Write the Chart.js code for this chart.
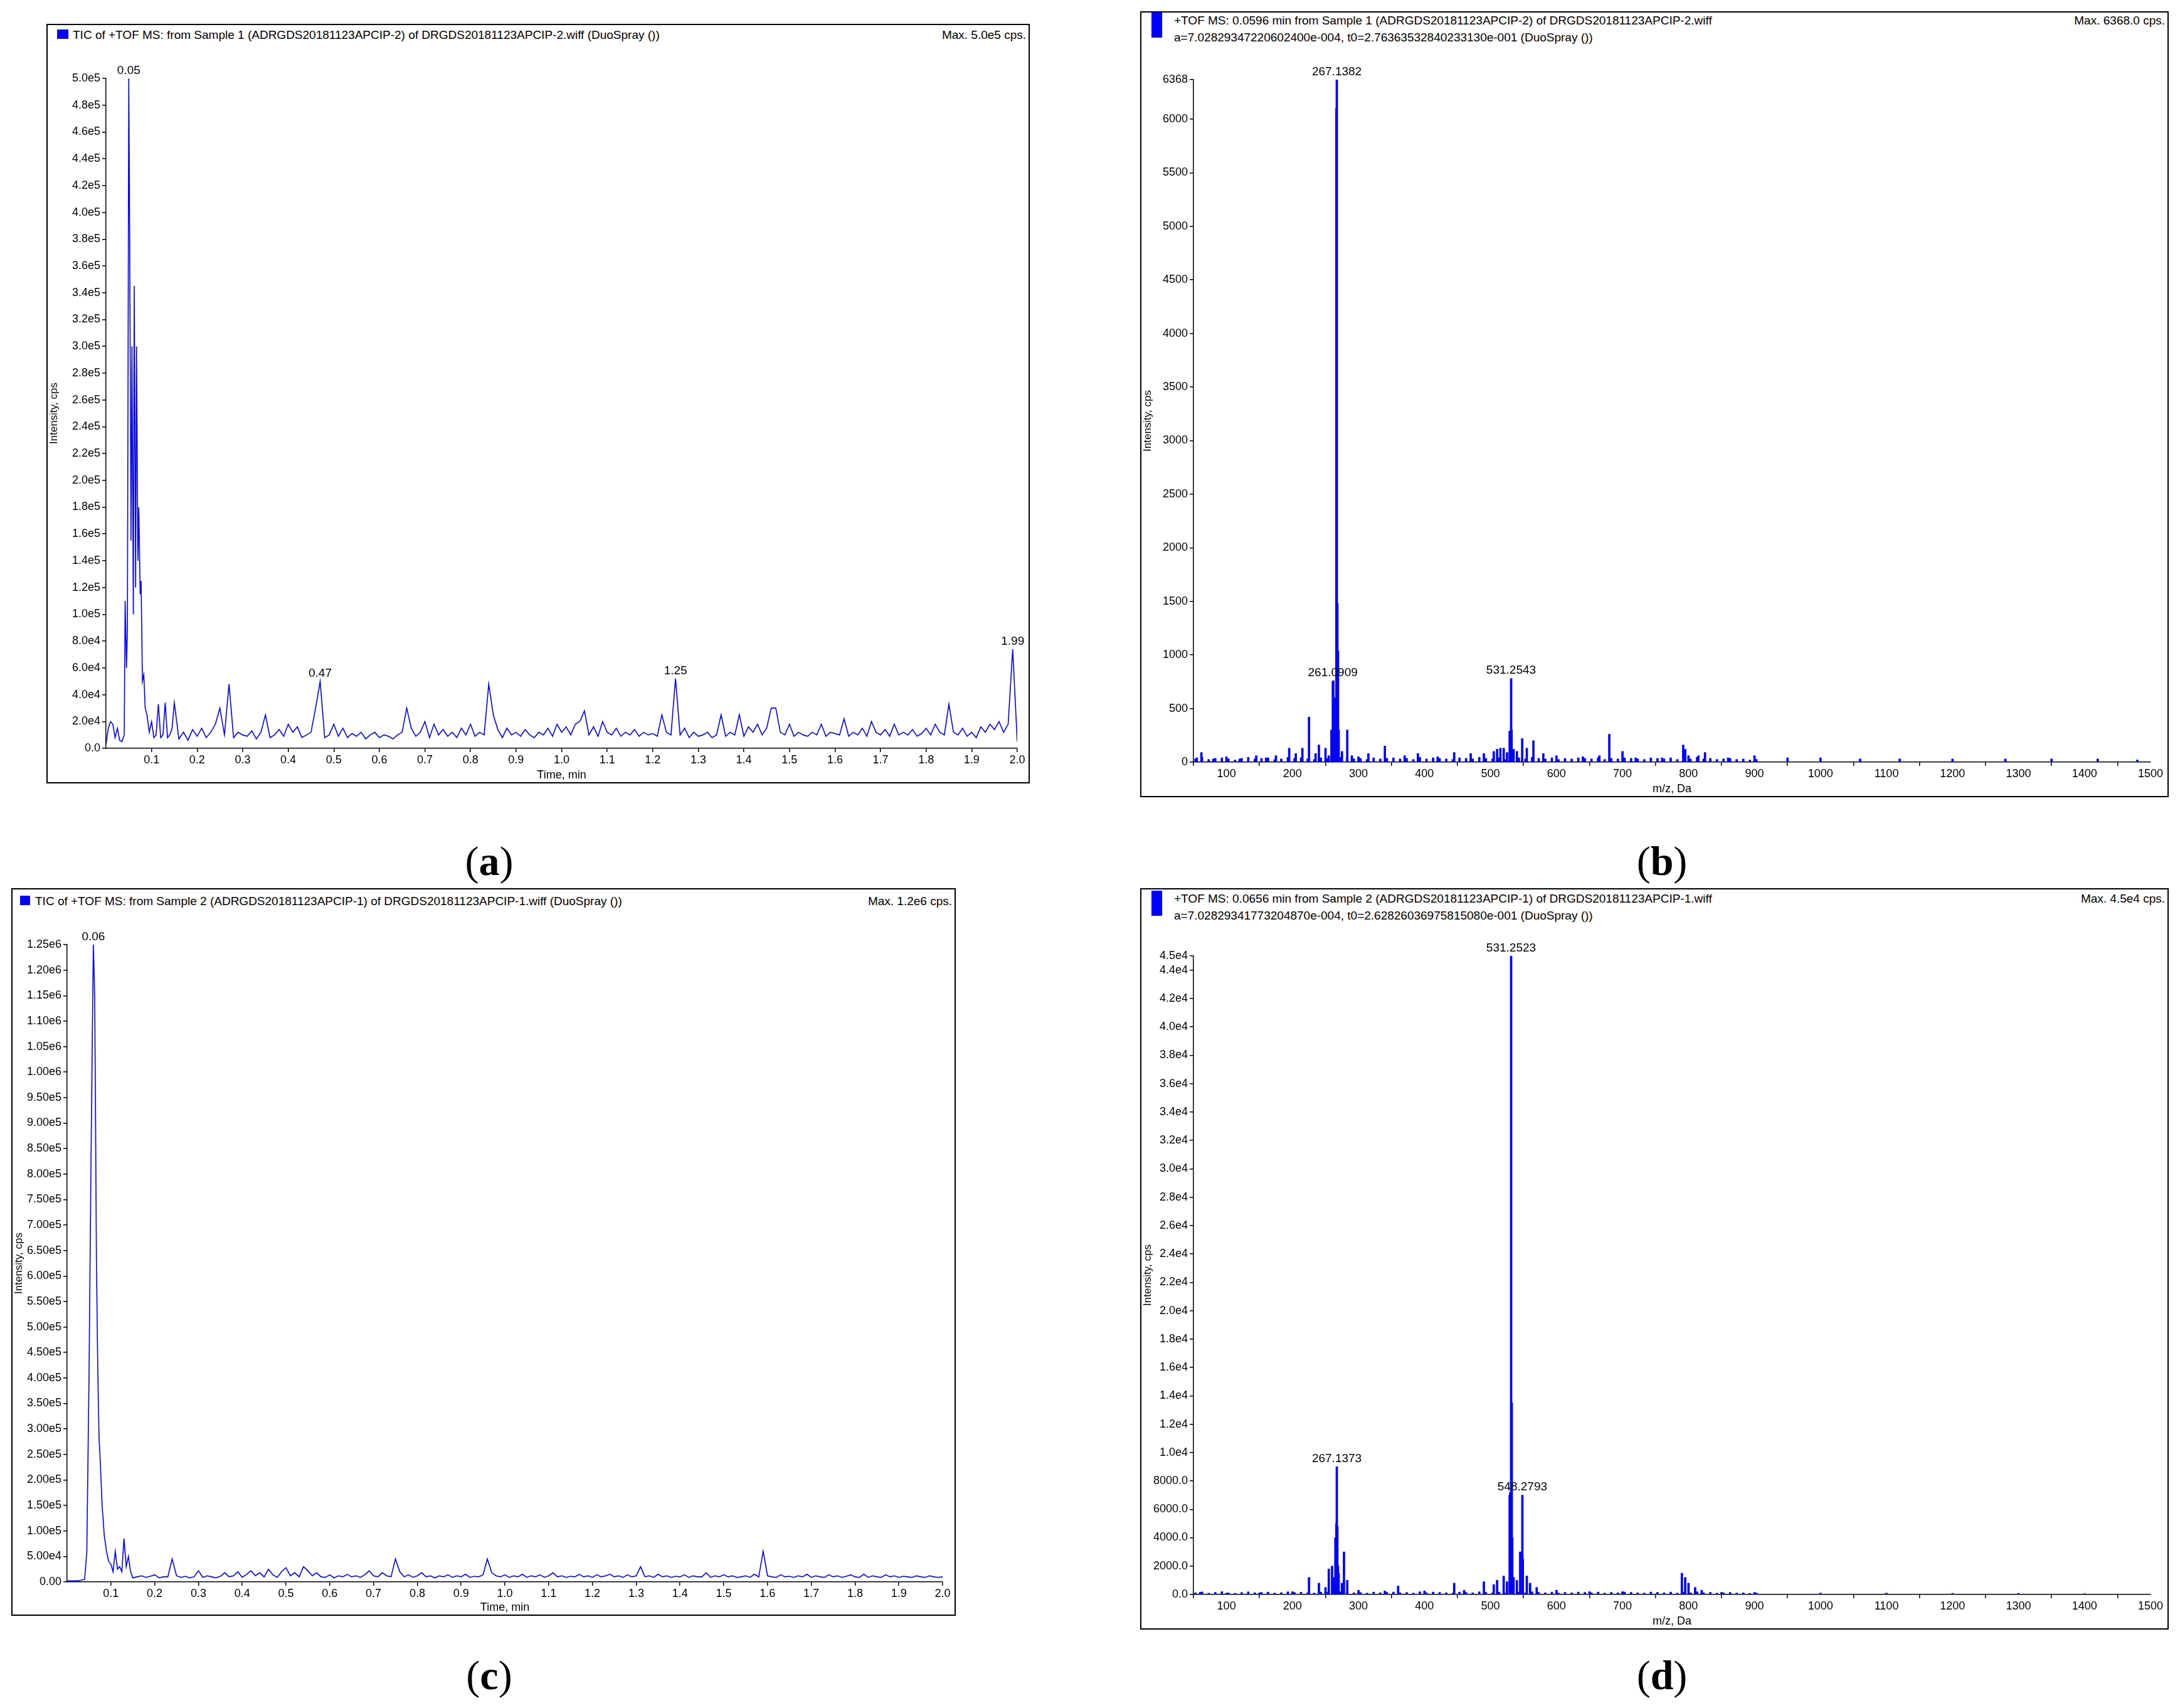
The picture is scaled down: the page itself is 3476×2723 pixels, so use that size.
<!DOCTYPE html>
<html><head><meta charset="utf-8">
<script src="https://cdn.jsdelivr.net/npm/chart.js@4/dist/chart.umd.min.js"></script>
<style>
body{margin:0;background:#fff;width:3476px;height:2723px;position:relative;overflow:hidden;font-family:'Liberation Sans Narrow','Liberation Sans',sans-serif;}
.frame{position:absolute;border:2px solid #000;box-sizing:border-box;}
.frame canvas{position:absolute;left:0;top:0;}
.hd{position:absolute;font-size:19px;white-space:nowrap;color:#000;}
.sq{position:absolute;background:#0000ff;}
.lab{position:absolute;font-family:'Liberation Serif','DejaVu Serif',serif;font-size:66px;transform:translateX(-50%);}
</style></head><body>
<script>
// ---------- DATA ----------
// (a) TIC sample 1 : early region + noise region from 0.15 min in 0.01 steps (intensity in units of 1e3 cps)
const timeA0 = [0,0.005,0.01,0.015,0.02,0.025,0.03,0.035,0.04,0.042,0.045,0.047,0.05,0.052,0.055,0.057,0.06,0.062,0.065,0.067,0.07,0.072,0.075,0.077,0.08,0.083,0.086,0.09,0.095,0.1,0.105,0.11,0.115,0.12,0.125,0.13,0.135,0.14,0.145];
const intA0 = [3,15,20,18,8,15,6,5,10,110,60,90,500,380,155,300,100,345,120,300,140,180,115,125,50,55,30,25,12,20,8,10,33,8,10,34,8,10,15];
const intA1 = [34,7,12,6,14,9,15,8,12,18, 30,10,48,8,12,10,9,13,7,12, 25,8,10,14,9,18,12,16,8,10, 12,30,50,8,10,18,9,15,8,11,
 9,12,7,10,12,8,10,9,7,10, 12,30,15,9,12,20,8,18,10,14, 9,12,8,15,10,18,9,12,10,48, 25,14,8,15,10,12,9,14,10,8,
 12,10,15,9,18,12,16,10,18,20, 28,10,16,9,20,12,10,15,9,12, 10,14,9,12,10,11,9,25,12,10, 52,10,15,8,12,9,10,12,8,10,
 25,9,12,10,25,9,16,12,18,10, 15,30,30,12,10,18,9,12,10,9, 12,10,18,9,12,11,10,22,9,12, 10,15,9,20,12,10,14,9,18,10,
 12,10,14,9,11,15,10,18,12,10, 33,12,10,15,9,12,8,16,12,18, 14,20,12,18,74,5];
const labelsA = [[0.05,500,'0.05'],[0.47,50,'0.47'],[1.25,52,'1.25'],[1.99,74,'1.99']];
// (c) TIC sample 2 (units of 1e3 cps)
const timeC0 = [0,0.01,0.02,0.03,0.04,0.045,0.05,0.055,0.058,0.06,0.063,0.065,0.067,0.07,0.073,0.075,0.078,0.08,0.085,0.09,0.095,0.1,0.105,0.11,0.115,0.12,0.125,0.13,0.135,0.14,0.145];
const intC0 = [2,2,2,3,5,60,400,860,1100,1250,1150,900,630,420,280,250,190,150,90,60,40,35,20,60,25,30,20,85,30,50,20];
const intC1 = [8,10,12,9,11,14,8,10,10,45, 12,9,11,8,10,22,9,12,10,8, 11,18,10,12,20,9,15,22,12,18, 10,25,14,9,20,28,12,18,10,30,
 22,12,18,10,9,14,8,12,10,15, 10,12,9,14,22,12,10,18,12,10, 45,20,10,14,9,12,18,10,12,8, 12,10,14,9,12,10,15,9,11,10,
 14,45,18,12,10,14,9,12,10,15, 9,12,10,14,9,12,18,10,12,9, 11,10,15,10,12,9,14,10,12,15, 10,12,9,14,10,12,30,10,12,9,
 15,10,12,9,11,10,14,9,12,10, 10,18,9,12,10,14,10,12,9,10, 12,9,15,10,60,12,10,9,14,10, 11,9,12,10,15,9,12,10,9,14,
 10,12,9,11,14,10,9,15,9,12, 10,9,14,10,12,9,11,10,9,12, 10,9,12,10,9,10];
const labelsC = [[0.06,1250,'0.06']];
// (b) spectrum sample 1
const peaksB = [[55,40],[62,90],[80,30],[100,50],[120,30],[145,60],[160,40],[175,60],[195,130],[205,80],[215,130],[225,420],[235,80],[240,160],[250,130],[255,60],[259,300],[261.09,750],[262,760],[263,600],[264,300],[266.5,6100],[267.14,6368],[268,1480],[269,1040],[270,300],[275,100],[283,300],[290,60],[300,50],[315,80],[340,150],[370,60],[390,80],[420,50],[445,90],[470,80],[490,80],[505,100],[510,120],[515,130],[520,130],[525,90],[529,290],[531.25,780],[532,300],[535,120],[540,100],[548,220],[555,130],[565,200],[580,80],[600,60],[640,50],[665,60],[680,260],[700,100],[720,40],[760,40],[792,160],[795,120],[800,60],[815,60],[825,90],[860,40],[900,60],[950,40],[1000,40],[1060,30],[1120,30],[1200,30],[1280,30],[1350,30],[1420,30],[1480,20]];
const noiseB = [30,45,25,35,40,30,20,35,45,30, 35,40,25,30,45,35,40,30,25,40, 35,30,45,40,30,35,25,40,30,35, 40,30,35,25,45,30,40,35,30,25,
 40,35,30,45,35,30,40,25,35,40, 30,45,35,30,40,25,35,30,40,35, 30,40,25,35,30,40,35,30,25,40, 35,30,40,25,35,30,45,30,35,25, 30,35,25,30,20,25];
const labelsB = [[267.14,6368,'267.1382'],[261.09,760,'261.0909'],[531.25,780,'531.2543']];
// (d) spectrum sample 2
const peaksD = [[60,150],[100,100],[150,120],[200,200],[225,1200],[240,800],[250,500],[255,1800],[260,2000],[262,1200],[265,4000],[266.5,5000],[267.14,9000],[268,4800],[269,2000],[270,1500],[275,800],[278,3000],[283,1000],[300,300],[340,250],[360,600],[400,250],[445,800],[460,300],[490,900],[505,700],[510,1000],[520,1300],[525,900],[529,7000],[530,7200],[531.25,45000],[532.25,13500],[533,4000],[535,1200],[540,1000],[545,3000],[548.28,7000],[549,2500],[555,1300],[560,800],[570,500],[600,300],[650,200],[700,200],[790,1500],[795,1200],[800,800],[810,500],[820,300],[850,150],[900,150],[1000,100],[1100,100],[1200,80],[1300,80],[1400,60]];
const noiseD = [120,180,90,150,200,110,80,140,190,120, 150,170,100,130,190,140,160,120,100,170, 150,120,190,170,120,140,100,170,120,150, 170,120,140,100,190,120,170,150,120,100,
 170,150,120,190,150,120,170,100,150,170, 120,190,150,120,170,100,150,120,170,150, 120,170,100,150,120,170,150,120,100,170, 150,120,170,100,150,120,190,120,150,100, 120,150,100,120,80,100];
const labelsD = [[531.25,45000,'531.2523'],[267.14,9000,'267.1373'],[548.28,7000,'548.2793']];

const ticksTime = [0.1,0.2,0.3,0.4,0.5,0.6,0.7,0.8,0.9,1.0,1.1,1.2,1.3,1.4,1.5,1.6,1.7,1.8,1.9,2.0];
const ticksMz = [100,200,300,400,500,600,700,800,900,1000,1100,1200,1300,1400,1500];
const ticksYA = [0,20000,40000,60000,80000,100000,120000,140000,160000,180000,200000,220000,240000,260000,280000,300000,320000,340000,360000,380000,400000,420000,440000,460000,480000,500000];
const ticksYB = [0,500,1000,1500,2000,2500,3000,3500,4000,4500,5000,5500,6000,6368];
const ticksYC = [0,50000,100000,150000,200000,250000,300000,350000,400000,450000,500000,550000,600000,650000,700000,750000,800000,850000,900000,950000,1000000,1050000,1100000,1150000,1200000,1250000];
const ticksYD = [0,2000,4000,6000,8000,10000,12000,14000,16000,18000,20000,22000,24000,26000,28000,30000,32000,34000,36000,38000,40000,42000,44000,45000];

// ---------- BUILD ----------
function ticFromArrays(t0,v0,v1){
  const d = t0.map((t,i)=>({x:t,y:v0[i]*1000}));
  v1.forEach((v,i)=>d.push({x:+(0.15+i*0.01).toFixed(3),y:v*1000}));
  return d;
}
function specFromArrays(peaks,noise){
  const d = noise.map((v,i)=>({x:50+i*10+3,y:v}));
  peaks.forEach(p=>d.push({x:p[0],y:p[1]}));
  return d.sort((a,b)=>a.x-b.x);
}
const fmtA = v => v===0?'0.0':(v>=1e5?(v/1e5).toFixed(1)+'e5':(v/1e4).toFixed(1)+'e4');
const fmtC = v => v===0?'0.00':(v>=1e6?(v/1e6).toFixed(2)+'e6':(v>=1e5?(v/1e5).toFixed(2)+'e5':(v/1e4).toFixed(2)+'e4'));
const fmtD = v => v===0?'0.0':(v>=1e4?(v/1e4).toFixed(1)+'e4':v.toFixed(1));
const fmtB = v => String(v);
const fmtT = v => v.toFixed(1);
const fmtM = v => String(v);

const FONT = "'Liberation Sans Narrow','Liberation Sans',sans-serif";
const peakLabelPlugin = {
  id:'pl',
  afterDatasetsDraw(ch){
    const o = ch.options.plugins.pl; const c=ch.ctx;
    c.save(); c.fillStyle='#000'; c.font='19px '+FONT; c.textAlign='center'; c.textBaseline='bottom';
    o.labels.forEach(l=>{ c.fillText(l[2], ch.scales.x.getPixelForValue(l[0]), ch.scales.y.getPixelForValue(l[1]*o.mult)-3); });
    c.restore();
  }
};

function panel(o){
  const f=document.createElement('div'); f.className='frame';
  Object.assign(f.style,{left:o.fx+'px',top:o.fy+'px',width:o.fw+'px',height:o.fh+'px'});
  document.body.appendChild(f);
  const sq=document.createElement('div'); sq.className='sq';
  Object.assign(sq.style,{left:o.sq[0]+'px',top:o.sq[1]+'px',width:o.sq[2]+'px',height:o.sq[3]+'px'}); f.appendChild(sq);
  o.head.forEach(h=>{const e=document.createElement('div');e.className='hd';e.textContent=h[2];
    e.style.left=h[0]+'px';e.style.top=h[1]+'px';f.appendChild(e);});
  const m=document.createElement('div');m.className='hd';m.textContent=o.max;m.style.right='4px';m.style.top=o.head[0][1]+'px';f.appendChild(m);
  const cv=document.createElement('canvas'); cv.width=o.fw-4; cv.height=o.fh-4; cv.style.left='0';cv.style.top='0'; f.appendChild(cv);
  const tickFont={family:FONT,size:18};
  new Chart(cv,{
    type:o.type,
    data:{datasets:[{data:o.data,borderColor:'#0000ff',backgroundColor:'#0000ff',borderWidth:o.type==='line'?1.6:0,pointRadius:0,tension:0,barThickness:3,grouped:false}]},
    plugins:[peakLabelPlugin],
    options:{responsive:false,animation:false,devicePixelRatio:1,
      layout:{padding:{left:0,top:o.pt,right:o.pr,bottom:0}},
      plugins:{legend:{display:false},tooltip:{enabled:false},pl:{labels:o.labels,mult:o.mult}},
      scales:{
        x:{type:'linear',min:o.xmin,max:o.xmax,offset:false,
          afterBuildTicks:s=>{s.ticks=o.xt.map(v=>({value:v}));},
          afterFit:s=>{s.height=o.xh;},
          ticks:{callback:o.fx_,font:tickFont,color:'#000',maxRotation:0,autoSkip:false,padding:2},
          grid:{drawOnChartArea:false,tickLength:6,color:'#000',lineWidth:1.5},
          border:{color:'#000',width:1.5},
          title:{display:true,text:o.xtitle,font:{family:FONT,size:18},color:'#000',padding:{top:0,bottom:0}}},
        y:{min:0,max:o.ymax,
          afterBuildTicks:s=>{s.ticks=o.yt.map(v=>({value:v}));},
          afterFit:s=>{s.width=o.yw;},
          ticks:{callback:o.fy_,font:tickFont,color:'#000',autoSkip:false,padding:3},
          grid:{drawOnChartArea:false,tickLength:6,color:'#000',lineWidth:1.5},
          border:{color:'#000',width:1.5},
          title:{display:true,text:'Intensity, cps',font:{family:"'Liberation Sans','DejaVu Sans',sans-serif",size:17},color:'#000',padding:{top:0,bottom:4}}}
      }}
  });
}

panel({fx:74,fy:38,fw:1568,fh:1211,type:'line',data:ticFromArrays(timeA0,intA0,intA1),labels:labelsA,mult:1000,
  sq:[15,7,18,15],head:[[40,5,'TIC of +TOF MS: from Sample 1 (ADRGDS20181123APCIP-2) of DRGDS20181123APCIP-2.wiff (DuoSpray ())']],
  max:'Max. 5.0e5 cps.',pt:85,pr:18,yw:93,xh:54,xmin:0,xmax:2.0,xt:ticksTime,fx_:fmtT,xtitle:'Time, min',ymax:500000,yt:ticksYA,fy_:fmtA});
panel({fx:1818,fy:18,fw:1640,fh:1253,type:'bar',data:specFromArrays(peaksB,noiseB),labels:labelsB,mult:1,
  sq:[16,0,17,40],head:[[52,2,'+TOF MS: 0.0596 min from Sample 1 (ADRGDS20181123APCIP-2) of DRGDS20181123APCIP-2.wiff'],[52,29,'a=7.02829347220602400e-004, t0=2.76363532840233130e-001 (DuoSpray ())']],
  max:'Max. 6368.0 cps.',pt:107,pr:27,yw:83,xh:54,xmin:50,xmax:1500,xt:ticksMz,fx_:fmtM,xtitle:'m/z, Da',ymax:6368,yt:ticksYB,fy_:fmtB});
panel({fx:18,fy:1416,fw:1506,fh:1160,type:'line',data:ticFromArrays(timeC0,intC0,intC1),labels:labelsC,mult:1000,
  sq:[12,10,16,15],head:[[36,8,'TIC of +TOF MS: from Sample 2 (ADRGDS20181123APCIP-1) of DRGDS20181123APCIP-1.wiff (DuoSpray ())']],
  max:'Max. 1.2e6 cps.',pt:88,pr:19,yw:87,xh:52,xmin:0,xmax:2.0,xt:ticksTime,fx_:fmtT,xtitle:'Time, min',ymax:1250000,yt:ticksYC,fy_:fmtC});
panel({fx:1818,fy:1416,fw:1640,fh:1182,type:'bar',data:specFromArrays(peaksD,noiseD),labels:labelsD,mult:1,
  sq:[16,2,17,40],head:[[52,4,'+TOF MS: 0.0656 min from Sample 2 (ADRGDS20181123APCIP-1) of DRGDS20181123APCIP-1.wiff'],[52,31,'a=7.02829341773204870e-004, t0=2.62826036975815080e-001 (DuoSpray ())']],
  max:'Max. 4.5e4 cps.',pt:106,pr:27,yw:83,xh:54,xmin:50,xmax:1500,xt:ticksMz,fx_:fmtM,xtitle:'m/z, Da',ymax:45000,yt:ticksYD,fy_:fmtD});

[['(a)',780,1335],['(b)',2650,1335],['(c)',780,2633],['(d)',2650,2633]].forEach(l=>{
  const e=document.createElement('div');e.className='lab';e.innerHTML='(<b>'+l[0][1]+'</b>)';
  e.style.left=l[1]+'px';e.style.top=l[2]+'px';document.body.appendChild(e);});
</script>
</body></html>
